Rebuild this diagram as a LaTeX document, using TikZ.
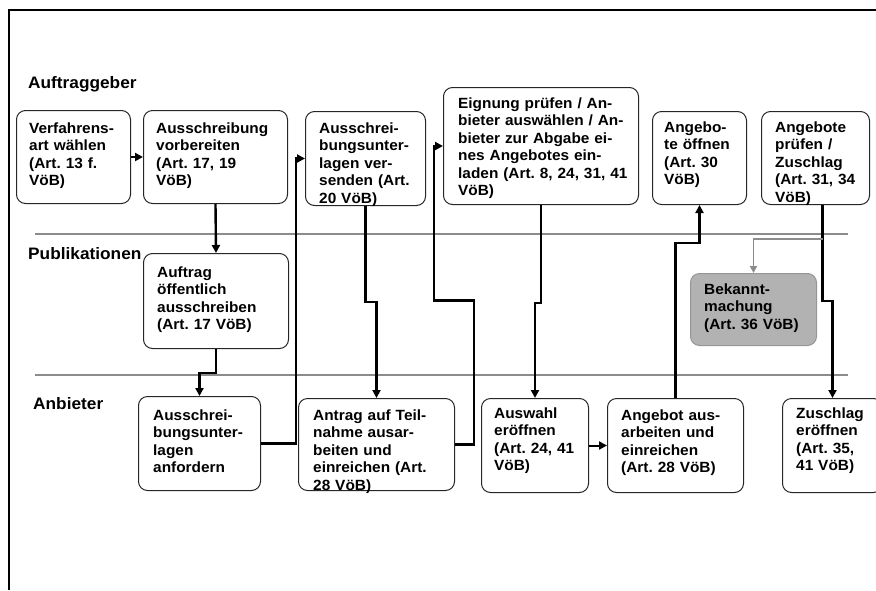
\documentclass[tikz,border=0pt]{standalone}
\usepackage{fontspec}
\setmainfont{Liberation Sans}[FakeStretch=1.04]
\usetikzlibrary{arrows.meta}
\frenchspacing

\definecolor{lanegray}{RGB}{140,140,140}
\definecolor{notefill}{RGB}{178,178,178}
\definecolor{noteline}{RGB}{150,150,150}

\begin{document}
\begin{tikzpicture}[x=1pt,y=-1pt,->,>={Triangle[length=8pt,width=8pt]},line width=2.4pt,
        box/.style={draw=black!85,line width=1pt,rounded corners=9pt,anchor=north west,inner sep=0pt},
        box text/.style={anchor=base west,inner sep=0pt,text width=230pt,align=left,
            font=\bfseries\fontsize{14.8}{17.5}\selectfont},
        lane/.style={anchor=base west,inner sep=0pt,font=\bfseries\fontsize{16.6}{18}\selectfont}]

    \useasboundingbox (0,0) rectangle (876,590);
    \draw[-,line width=1.3pt] (9,590) -- (9,10) -- (876,10);

    % swimlanes
    \draw[-,lanegray,line width=1.8pt] (35,234) -- (848,234);
    \draw[-,lanegray,line width=1.8pt] (35,375) -- (848,375);
    \node[lane] (auftraggeber) at (27,88) {Auftraggeber};
    \node[lane] (publikationen) at (27,259) {Publikationen};
    \node[lane] (anbieter) at (32,409) {Anbieter};

    % Auftraggeber
    \node[box,minimum width=114pt,minimum height=93pt] (wahl) at (16,110) {};
    \node[box,minimum width=144pt,minimum height=93pt] (vorbereiten) at (143,110) {};
    \node[box,minimum width=120pt,minimum height=94pt] (versenden) at (305,111) {};
    \node[box,minimum width=195pt,minimum height=117pt] (eignung) at (443,87) {};
    \node[box,minimum width=94pt,minimum height=93pt] (oeffnen) at (652,111) {};
    \node[box,minimum width=108pt,minimum height=93pt] (pruefen) at (761,111) {};

    \node[box text] (wahl-t) at ([shift={(12pt,-23pt)}]wahl.north west)
        {Verfahrens-\\art wählen\\(Art. 13 f.\\VöB)};
    \node[box text] (vorbereiten-t) at ([shift={(12pt,-23pt)}]vorbereiten.north west)
        {Ausschreibung\\vorbereiten\\(Art. 17, 19\\VöB)};
    \node[box text] (versenden-t) at ([shift={(13pt,-22pt)}]versenden.north west)
        {Ausschrei-\\bungsunter-\\lagen ver-\\senden (Art.\\20 VöB)};
    \node[box text] (eignung-t) at ([shift={(14pt,-21pt)}]eignung.north west)
        {Eignung prüfen / An-\\bieter auswählen / An-\\bieter zur Abgabe ei-\\nes Angebotes ein-\\laden (Art. 8, 24, 31, 41\\VöB)};
    \node[box text] (oeffnen-t) at ([shift={(11pt,-21pt)}]oeffnen.north west)
        {Angebo-\\te öffnen\\(Art. 30\\VöB)};
    \node[box text] (pruefen-t) at ([shift={(13pt,-21pt)}]pruefen.north west)
        {Angebote\\prüfen /\\Zuschlag\\(Art. 31, 34\\VöB)};

    % Publikationen
    \node[box,minimum width=145pt,minimum height=95pt] (auftrag) at (143,253) {};
    \node[box,draw=noteline,fill=notefill,minimum width=126pt,minimum height=72pt] (bekannt) at (690,273) {};

    \node[box text] (auftrag-t) at ([shift={(13pt,-24pt)}]auftrag.north west)
        {Auftrag\\öffentlich\\ausschreiben\\(Art. 17 VöB)};
    \node[box text] (bekannt-t) at ([shift={(13pt,-21pt)}]bekannt.north west)
        {Bekannt-\\machung\\(Art. 36 VöB)};

    % Anbieter
    \node[box,minimum width=122pt,minimum height=94pt] (anfordern) at (138,396) {};
    \node[box,minimum width=156pt,minimum height=92pt] (antrag) at (298,398) {};
    \node[box,minimum width=107pt,minimum height=94pt] (auswahl) at (481,398) {};
    \node[box,minimum width=136pt,minimum height=94pt] (angebot) at (607,398) {};
    \node[box,minimum width=100pt,minimum height=94pt] (zuschlag) at (782,398) {};

    \node[box text] (anfordern-t) at ([shift={(14pt,-24pt)}]anfordern.north west)
        {Ausschrei-\\bungsunter-\\lagen\\anfordern};
    \node[box text] (antrag-t) at ([shift={(14pt,-22pt)}]antrag.north west)
        {Antrag auf Teil-\\nahme ausar-\\beiten und\\einreichen (Art.\\28 VöB)};
    \node[box text] (auswahl-t) at ([shift={(12pt,-20pt)}]auswahl.north west)
        {Auswahl\\eröffnen\\(Art. 24, 41\\VöB)};
    \node[box text] (angebot-t) at ([shift={(13pt,-22pt)}]angebot.north west)
        {Angebot aus-\\arbeiten und\\einreichen\\(Art. 28 VöB)};
    \node[box text] (zuschlag-t) at ([shift={(13pt,-20pt)}]zuschlag.north west)
        {Zuschlag\\eröffnen\\(Art. 35,\\41 VöB)};

    % flow
    \draw[line width=2pt] (wahl) -- (vorbereiten);
    \draw (vorbereiten.south) -- (auftrag.north);
    \draw (auftrag.south) -- ++(0,24) -| (anfordern.north);
    \draw (anfordern.east) -- ++(35,0) |- (versenden.west);
    \draw (versenden.south) -- ++(0,96) -| (antrag.north);
    \draw (antrag.east) -- ++(19,0) -- ++(0,-144) -- ++(-40,0) |- (eignung.west);
    \draw (eignung.south) -- ++(0,98) -| (auswahl.north);
    \draw[line width=2pt] (auswahl) -- (angebot);
    \draw (angebot.north) -- ++(0,-155) -| (oeffnen.south);
    \draw ([xshift=7pt]pruefen.south) -- ++(0,96) -| (zuschlag.north);
    \coordinate (split) at ([xshift=7pt,yshift=-34pt]pruefen.south);
    \draw[lanegray,line width=1.8pt,>={Triangle[length=7pt,width=7pt]}] (split) -| (bekannt.north);
\end{tikzpicture}
\end{document}
